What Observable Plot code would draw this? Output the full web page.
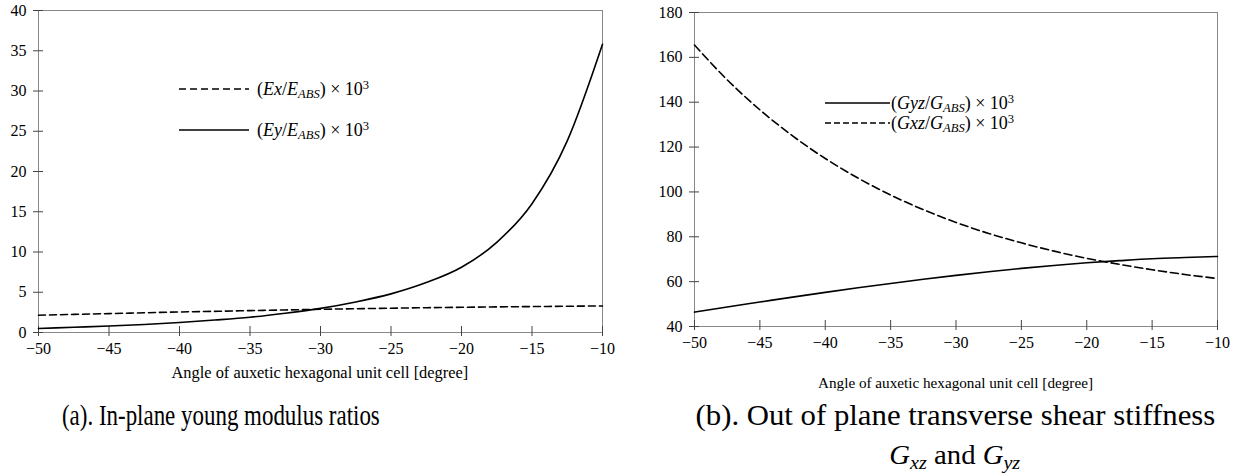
<!DOCTYPE html>
<html><head><meta charset="utf-8">
<script src="https://cdn.jsdelivr.net/npm/d3@7"></script>
<script src="https://cdn.jsdelivr.net/npm/@observablehq/plot@0.6"></script>
<style>
html,body{margin:0;padding:0;background:#fff;}
body{width:1243px;height:476px;position:relative;overflow:hidden;font-family:"Liberation Serif",serif;color:#000;}
.panel{position:absolute;top:0;}
.txt{position:absolute;white-space:nowrap;line-height:1;}
.leg{position:absolute;white-space:nowrap;line-height:1;font-size:18px;display:flex;align-items:center;}
.leg svg{display:block;}
sub{font-size:0.7em;vertical-align:-0.25em;line-height:0;}
sup{font-size:0.7em;vertical-align:0.5em;line-height:0;}
.cap{font-size:30px;}
</style>
</head><body>
<div id="a" class="panel" style="left:0px"></div>
<div id="b" class="panel" style="left:621px"></div>
<script>
// ---- data ----
const angles = [-50,-47.5,-45,-42.5,-40,-37.5,-35,-32.5,-30,-27.5,-25,-22.5,-20,-17.5,-15,-12.5,-10];
const exRatio = [2.15,2.25,2.35,2.45,2.55,2.63,2.72,2.8,2.88,2.95,3.02,3.08,3.13,3.18,3.22,3.26,3.3];
const eyRatio = [0.5,0.65,0.8,1.0,1.25,1.55,1.9,2.4,3.0,3.8,4.8,6.2,8.1,11.2,16.0,23.8,35.8];
const gyzRatio = [46.4,48.7,50.9,53.1,55.2,57.25,59.2,61.05,62.8,64.4,65.9,67.2,68.4,69.35,70.2,70.75,71.2];
const gxzRatio = [165.5,150.0,136.6,125.0,114.9,106.2,98.6,92.1,86.4,81.5,77.3,73.6,70.4,67.7,65.3,63.2,61.4];
const xTicks = [-50,-45,-40,-35,-30,-25,-20,-15,-10];
const yTicksA = [0,5,10,15,20,25,30,35,40];
const yTicksB = [40,60,80,100,120,140,160,180];
const xLabel = "Angle of auxetic hexagonal unit cell [degree]";

const tableA = angles.map((a,i)=>({a, ex: exRatio[i], ey: eyRatio[i]}));
const tableB = angles.map((a,i)=>({a, gyz: gyzRatio[i], gxz: gxzRatio[i]}));

const serif = "'Liberation Serif', serif";
const axisStyle = {fontFamily:serif, fontSize:"16px"};
const font = {fontFamily:serif, fontSize:16};

function axes(yTicks){
  return [
    Plot.frame({stroke:"#888", strokeWidth:1}),
    Plot.axisY(yTicks, {tickSize:5, tickPadding:7, stroke:"#444", fill:"#000", ...font}),
    Plot.axisY(yTicks, {tickSize:5, dx:5, tickFormat:()=>"", stroke:"#444"}),
    Plot.axisX(xTicks, {tickSize:4, tickPadding:6, stroke:"#444", fill:"#000", ...font}),
    Plot.axisX(xTicks, {tickSize:6, dy:-6, tickFormat:()=>"", stroke:"#444"})
  ];
}

const plotA = Plot.plot({
  width:621, height:390,
  marginLeft:38, marginRight:19, marginTop:10, marginBottom:58,
  x:{domain:[-50,-10], label:null},
  y:{domain:[0,40], label:null},
  style:axisStyle,
  marks:[
    ...axes(yTicksA),
    Plot.line(tableA, {x:"a", y:"ex", stroke:"#000", strokeWidth:1.6, strokeDasharray:"7,4", curve:"monotone-x"}),
    Plot.line(tableA, {x:"a", y:"ey", stroke:"#000", strokeWidth:1.6, curve:"monotone-x"})
  ]
});
document.getElementById("a").appendChild(plotA);

const plotB = Plot.plot({
  width:622, height:390,
  marginLeft:73, marginRight:26, marginTop:12, marginBottom:64,
  x:{domain:[-50,-10], label:null},
  y:{domain:[40,180], label:null},
  style:axisStyle,
  marks:[
    ...axes(yTicksB),
    Plot.line(tableB, {x:"a", y:"gxz", stroke:"#000", strokeWidth:1.6, strokeDasharray:"8,4", curve:"monotone-x"}),
    Plot.line(tableB, {x:"a", y:"gyz", stroke:"#000", strokeWidth:1.6, curve:"monotone-x"})
  ]
});
document.getElementById("b").appendChild(plotB);

// ---- HTML text: legends, axis labels, captions ----
function addEl(cls, html, cx, cy, fontSize, targetW, scaleOverride){
  const d = document.createElement("div");
  d.className = cls; d.innerHTML = html;
  if (fontSize) d.style.fontSize = fontSize + "px";
  document.body.appendChild(d);
  const w = d.offsetWidth, h = d.offsetHeight;
  const s = scaleOverride || (targetW ? targetW / w : 1);
  d.style.left = (cx - w/2) + "px";
  d.style.top = (cy - h/2) + "px";
  d.style.transform = `scaleX(${s})`;
  d.style.transformOrigin = "50% 50%";
  return s;
}
function legendRow(x, y, w, dash, html, gap){
  const d = document.createElement("div");
  d.className = "leg";
  d.innerHTML = `<svg width="${w}" height="4"><line x1="0" y1="2" x2="${w}" y2="2" stroke="#000" stroke-width="1.6" ${dash ? `stroke-dasharray="${dash}"` : ""}/></svg><span style="margin-left:${gap}px">${html}</span>`;
  d.style.left = x + "px"; d.style.top = (y - 10) + "px"; d.style.height = "20px";
  document.body.appendChild(d);
}
const legA = [
  {dash:"7,4", html:"(<i>Ex</i>/<i>E<sub>ABS</sub></i>) × 10<sup>3</sup>"},
  {dash:null,  html:"(<i>Ey</i>/<i>E<sub>ABS</sub></i>) × 10<sup>3</sup>"}
];
const legB = [
  {dash:null,  html:"(<i>Gyz</i>/<i>G<sub>ABS</sub></i>) × 10<sup>3</sup>"},
  {dash:"6,3", html:"(<i>Gxz</i>/<i>G<sub>ABS</sub></i>) × 10<sup>3</sup>"}
];
legA.forEach((l,i)=>legendRow(179, 89 + i*41, 70, l.dash, l.html, 8));
legB.forEach((l,i)=>legendRow(825, 103 + i*20, 65, l.dash, l.html, 1));

addEl("txt", xLabel, 320, 373, 16.4);
addEl("txt", xLabel, 955.5, 382, 15.2);
addEl("txt cap", "(a). In-plane young modulus ratios", 221, 415, 30, 318);
const sb = addEl("txt cap", "(b). Out of plane transverse shear stiffness", 955, 415, 30, 520);
addEl("txt cap", "<i>G<sub>xz</sub></i> and <i>G<sub>yz</sub></i>", 955, 455, 28, null, sb);
</script>
</body></html>
